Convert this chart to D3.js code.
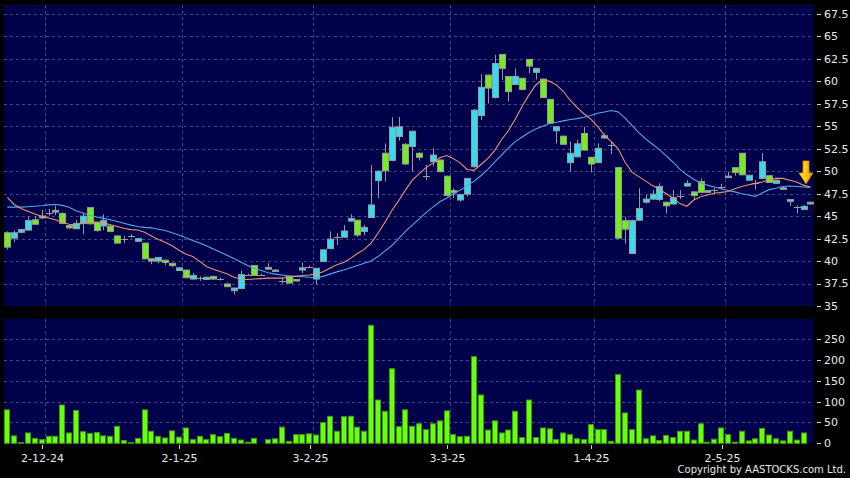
<!DOCTYPE html>
<html><head><meta charset="utf-8">
<script src="https://cdn.jsdelivr.net/npm/d3@7"></script>
<style>html,body{margin:0;padding:0;background:#000;}svg{display:block}</style>
</head><body><svg id="c" width="850" height="478"></svg>
<script>
// ---- data ----
const open  = [43.15,42.55,43.2,43.45,44.6,45.0,45.4,45.45,45.3,43.95,43.6,44.2,45.95,44.3,43.9,43.9,42.8,42.5,42.8,42.2,
               42.0,40.25,40.0,40.1,39.75,38.95,39.0,38.0,38.1,37.95,38.3,38.0,37.45,36.7,36.95,38.5,39.5,38.5,39.3,38.95,
               37.8,38.3,37.95,39.0,39.35,38.0,39.95,41.4,42.7,42.65,44.45,44.55,43.3,44.85,48.95,52.0,51.2,53.85,53.0,52.75,
               52.0,49.5,51.05,51.25,49.45,47.85,46.8,47.45,50.5,56.2,60.7,58.2,63.0,60.55,59.65,60.35,62.45,61.0,60.25,58.0,
               54.5,53.9,50.95,51.6,54.2,51.55,50.95,53.7,52.9,50.4,44.5,40.85,44.55,46.55,46.9,46.85,46.55,46.35,47.2,48.35,
               47.7,48.85,47.65,47.9,48.25,49.3,50.4,52.0,49.0,48.65,49.2,49.5,48.65,48.15,46.65,46.05,45.75,46.55];
const high  = [43.3,43.4,43.6,44.95,44.95,45.7,45.8,46.15,45.4,44.1,44.6,45.3,46.0,44.35,45.2,43.95,42.85,42.8,43.0,42.55,
               42.05,40.3,40.45,40.15,39.8,39.3,39.05,38.65,38.3,38.25,38.35,38.15,37.6,37.05,38.9,38.6,39.55,38.6,39.75,39.1,
               38.1,38.35,38.0,39.85,39.5,39.25,41.3,43.3,43.1,44.0,45.2,44.6,44.0,50.7,50.1,53.1,56.0,56.05,53.1,54.5,
               52.1,50.7,52.55,51.3,49.5,48.1,47.5,49.25,56.9,60.8,60.75,62.95,63.05,60.6,61.45,60.4,62.5,61.5,60.3,58.05,
               55.0,53.95,53.3,53.5,54.95,51.6,53.1,54.2,53.3,50.45,44.95,44.6,48.1,47.4,47.9,48.65,46.6,47.9,47.9,49.0,
               47.75,49.2,47.9,48.15,48.6,49.95,50.45,52.05,49.6,49.0,52.0,49.55,49.05,48.2,46.9,46.2,46.2,46.6];
const low   = [41.3,42.15,43.1,43.4,44.0,44.7,45.05,45.1,44.1,43.6,43.55,43.0,44.05,43.25,43.45,43.2,41.95,42.0,42.6,42.15,
               40.2,39.65,39.75,39.55,39.3,38.9,38.1,37.95,37.8,37.9,37.9,37.85,37.1,36.3,36.85,38.4,38.35,38.4,39.0,38.85,
               37.5,37.5,37.75,38.65,39.2,37.4,39.9,41.3,41.8,42.6,44.4,42.7,42.9,44.8,47.0,48.85,51.1,53.4,50.7,49.95,
               51.2,49.0,50.6,49.9,47.2,47.0,46.6,47.2,50.4,55.7,57.55,58.1,60.15,57.75,59.6,59.0,60.9,60.2,58.15,55.3,
               53.1,52.95,49.95,51.55,52.3,49.85,50.9,53.6,51.9,42.5,41.95,40.8,44.5,46.4,46.8,46.7,45.3,46.3,46.9,48.3,
               46.9,47.6,47.6,47.5,48.0,49.25,49.5,49.55,48.95,47.95,49.1,48.7,48.6,47.95,46.15,45.3,45.7,46.3];
const close = [41.55,43.15,43.5,44.5,44.1,44.8,45.4,45.65,44.2,43.7,44.2,45.0,44.15,43.4,44.5,43.3,42.0,42.5,42.8,42.5,
               40.25,40.0,40.4,39.85,39.5,39.25,38.15,38.4,38.1,38.2,38.0,38.0,37.15,37.0,38.5,38.5,38.4,38.5,39.1,39.0,
               37.8,37.55,37.8,39.25,39.35,39.2,41.25,42.45,42.7,43.35,44.75,42.9,43.75,46.25,50.0,50.05,54.9,54.95,50.8,54.45,
               51.55,49.5,51.8,49.95,47.3,47.6,47.4,49.2,56.8,59.35,59.25,62.0,61.45,58.85,60.55,59.1,61.7,61.45,58.2,55.35,
               54.95,53.0,52.0,53.05,52.35,50.8,52.55,53.95,52.9,42.55,43.55,44.5,45.85,46.9,47.45,48.3,46.15,47.05,47.2,48.65,
               47.3,47.65,47.85,47.9,48.25,49.45,49.85,49.6,49.55,48.65,51.05,48.75,49.0,48.0,46.85,46.05,46.1,46.35];
const volume = [81.5,19,3,26,13,10,18,18,93,26,80,29,25,27,19,18,42,8,3,13,
                81.5,30,18,14,31,16,38,10,18,10,22,17,25,13,9,4,13,1,10,12,
                40,6,22,22,24,21,51,66,30,65,66,40,30,284,105,78,180,41,81.5,42,
                48,34,48,55,79,22,17,18,209,117,33,55,26,33,78,15,105,15,38,36,
                10,26,22,12,10,46,34,34,6,166,74,34,129,12,19,8,20,15,30,30,
                9,48,4,11,38,22,4,30,7,12,37,21,12,7,30,9,26,0];
const ma10 = [47.1,46.3,45.85,45.55,45.25,45.0,44.8,44.6,44.3,44.1,44.05,44.2,44.35,44.35,44.25,44.05,43.85,43.65,43.5,43.45,
              43.2,42.8,42.4,42.1,41.7,41.2,40.8,40.5,40.0,39.4,39.1,38.85,38.6,38.2,38.0,37.95,38.0,38.05,38.1,38.1,
              38.1,38.2,38.3,38.4,38.45,38.55,38.8,39.2,39.6,39.85,40.3,40.85,41.3,42.0,43.1,44.3,45.6,46.7,47.9,49.0,
              49.7,50.4,50.9,51.5,51.75,51.4,50.9,50.2,50.1,50.75,51.4,52.3,53.5,54.5,55.8,57.2,58.5,59.6,60.2,60.0,
              59.6,58.9,57.9,57.1,56.4,55.8,55.0,54.0,53.3,52.5,51.0,49.9,49.4,48.9,48.4,48.0,47.5,47.0,46.4,46.1,
              46.8,47.15,47.35,47.55,47.65,47.75,48.05,48.3,48.5,48.65,48.8,49.05,49.2,49.2,49.0,48.8,48.45,48.25];
const ma20 = [46.0,46.0,46.0,46.05,46.1,46.15,46.25,46.3,46.2,46.0,45.6,45.35,45.1,44.9,44.75,44.6,44.4,44.2,44.0,43.85,
              43.75,43.7,43.55,43.4,43.15,42.9,42.6,42.3,42.0,41.7,41.35,41.0,40.65,40.3,39.9,39.5,39.2,38.95,38.7,38.55,
              38.45,38.35,38.3,38.25,38.2,38.15,38.3,38.55,38.8,39.0,39.25,39.5,39.75,40.0,40.5,41.1,41.7,42.5,43.3,44.0,
              44.7,45.4,46.0,46.6,47.0,47.5,47.9,48.4,48.9,49.5,50.2,51.0,51.8,52.6,53.3,53.8,54.3,54.7,55.0,55.3,
              55.45,55.6,55.75,55.85,56.0,56.2,56.45,56.6,56.75,56.6,55.9,55.1,54.3,53.6,53.0,52.4,51.7,51.0,50.2,49.6,
              49.1,48.7,48.45,48.25,48.05,47.85,47.7,47.5,47.35,47.2,47.6,47.95,48.1,48.3,48.35,48.3,48.25,48.2];
const priceTicks  = [35,37.5,40,42.5,45,47.5,50,52.5,55,57.5,60,62.5,65,67.5];
const volumeTicks = [0,50,100,150,200,250];
const dateTickIndex = [6,26,45,65,86,105];
const dateTickLabels = ['2-12-24','2-1-25','3-2-25','3-3-25','1-4-25','2-5-25'];

// ---- layout ----
const svg = d3.select('#c');
const L = 3.9, R = 813.8;
const P = {top:5, bottom:306};
const V = {top:319, bottom:443.3};
const n = close.length;
const x = d3.scaleBand().domain(d3.range(n)).range([L, R]).padding(0);
const cx = i => x(i) + x.bandwidth()/2;
const y = d3.scaleLinear().domain([35, 68.5]).range([P.bottom, P.top]);
const yv = d3.scaleLinear().domain([0, 298]).range([V.bottom, V.top]);

const NAVY = '#00004a', GRID = '#45458a';
const UP = '#33dcef', DOWN = '#72ee1e', EDGE = '#9a9a9a';
const font = "'DejaVu Sans', Verdana, sans-serif";

svg.append('rect').attr('width',850).attr('height',478).attr('fill','#000');
svg.append('rect').attr('x',L).attr('y',P.top).attr('width',R-L).attr('height',P.bottom-P.top).attr('fill',NAVY);
svg.append('rect').attr('x',L).attr('y',V.top).attr('width',R-L).attr('height',V.bottom-V.top).attr('fill',NAVY);

// gridlines
const g = svg.append('g').attr('stroke',GRID).attr('stroke-width',1).attr('stroke-dasharray','3,3');
priceTicks.filter(t=>t>35).forEach(t=>{
  const yy = Math.round(y(t))+0.5;
  g.append('line').attr('x1',L).attr('x2',R).attr('y1',yy).attr('y2',yy);
});
volumeTicks.filter(t=>t>0).forEach(t=>{
  const yy = Math.round(yv(t))+0.5;
  g.append('line').attr('x1',L).attr('x2',R).attr('y1',yy).attr('y2',yy);
});
dateTickIndex.forEach(i=>{
  const xx = Math.round(x(i))+0.5;
  g.append('line').attr('x1',xx).attr('x2',xx).attr('y1',P.top).attr('y2',P.bottom);
  g.append('line').attr('x1',xx).attr('x2',xx).attr('y1',V.top).attr('y2',V.bottom);
});

// volume bars
svg.append('g').selectAll('rect').data(volume).join('rect')
  .attr('x',(d,i)=>Math.round(cx(i)-3)+0.5)
  .attr('width',5)
  .attr('y',d=>yv(d)+0.5)
  .attr('height',d=>Math.max(0, V.bottom - yv(d) - 0.5))
  .attr('fill','#66ff10').attr('stroke','#3f9a08').attr('stroke-width',1)
  .style('display',d=>d>0?null:'none');

// candles
const cg = svg.append('g');
d3.range(n).forEach(i=>{
  const xc = Math.round(cx(i))+0.5;
  cg.append('line').attr('x1',xc).attr('x2',xc).attr('y1',y(high[i])).attr('y2',y(low[i]))
    .attr('stroke',EDGE).attr('stroke-width',1);
  const o=open[i], c=close[i];
  if (Math.abs(o-c) < 0.001) {
    const yy = Math.round(y(o))+0.5;
    cg.append('line').attr('x1',xc-3.5).attr('x2',xc+3.5).attr('y1',yy).attr('y2',yy)
      .attr('stroke',EDGE).attr('stroke-width',1);
  } else {
    const top = y(Math.max(o,c)), bot = y(Math.min(o,c));
    cg.append('rect').attr('x',xc-3).attr('width',6)
      .attr('y',top).attr('height',Math.max(1.5,bot-top))
      .attr('fill', c>o ? UP : DOWN).attr('stroke',EDGE).attr('stroke-width',1);
  }
});

// moving averages
const line = d3.line().defined(d=>d!=null).x((d,i)=>cx(i)).y(d=>y(d)).curve(d3.curveLinear);
svg.append('path').attr('d',line(ma20)).attr('fill','none').attr('stroke','#4fa8ec').attr('stroke-width',1.1);
svg.append('path').attr('d',line(ma10)).attr('fill','none').attr('stroke','#e8956a').attr('stroke-width',1.1);

// right axes
const ax = svg.append('g').attr('fill','#e8e8e8').style('font-family',font).style('font-size','11px');
priceTicks.forEach(t=>{
  const yy = y(t);
  svg.append('line').attr('x1',817).attr('x2',821).attr('y1',Math.round(yy)+0.5).attr('y2',Math.round(yy)+0.5).attr('stroke','#cfcfcf');
  ax.append('text').attr('x',824).attr('y',yy).attr('dy','0.36em').text(t%1 ? t.toFixed(1) : t);
});
volumeTicks.forEach(t=>{
  const yy = yv(t);
  svg.append('line').attr('x1',817).attr('x2',821).attr('y1',Math.round(yy)+0.5).attr('y2',Math.round(yy)+0.5).attr('stroke','#cfcfcf');
  ax.append('text').attr('x',824).attr('y',yy).attr('dy','0.36em').text(t);
});
// bottom date axis
dateTickIndex.forEach((i,k)=>{
  const xx = Math.round(x(i))-2.5;
  svg.append('line').attr('x1',xx).attr('x2',xx).attr('y1',445).attr('y2',449).attr('stroke','#cfcfcf');
  ax.append('text').attr('x',xx).attr('y',462).attr('text-anchor','middle').text(dateTickLabels[k]);
});
svg.append('text').attr('x',846).attr('y',473).attr('text-anchor','end')
  .attr('fill','#e8e8e8').style('font-family',font).style('font-size','10px')
  .text('Copyright by AASTOCKS.com Ltd.');

// arrow marker at the latest bar
const defs = svg.append('defs');
const gr = defs.append('linearGradient').attr('id','ag').attr('x1','0').attr('x2','1').attr('y1','0').attr('y2','0');
gr.append('stop').attr('offset','0').attr('stop-color','#ffe680');
gr.append('stop').attr('offset','0.5').attr('stop-color','#ffc800');
gr.append('stop').attr('offset','1').attr('stop-color','#e09a00');
const ax0 = cx(n-2)+2.5, tipY = y(ma10[n-1]) - 3;
svg.append('path')
  .attr('d',`M${ax0-3},${tipY-23} L${ax0+3},${tipY-23} L${ax0+3},${tipY-11} L${ax0+7},${tipY-11} L${ax0},${tipY} L${ax0-7},${tipY-11} L${ax0-3},${tipY-11} Z`)
  .attr('fill','url(#ag)').attr('stroke','#c88a00').attr('stroke-width',0.8);
</script></body></html>
